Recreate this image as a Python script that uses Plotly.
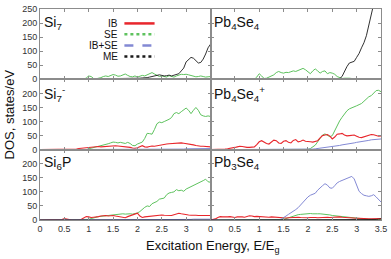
import plotly.graph_objects as go
from plotly.subplots import make_subplots

# Excitation energy grid E/Eg, 0 .. 3.5 step 0.05 (71 points)
energy = [round(i * 0.05, 2) for i in range(71)]

panel_names = ["Si<sub>7</sub>", "Pb<sub>4</sub>Se<sub>4</sub>",
               "Si<sub>7</sub><sup>-</sup>", "Pb<sub>4</sub>Se<sub>4</sub><sup>+</sup>",
               "Si<sub>6</sub>P", "Pb<sub>3</sub>Se<sub>4</sub>"]
series_names = ["IB", "SE", "IB+SE", "ME"]

Z10 = [0] * 10

# ---- Si7 ----
si7_ib = [0] * 71
si7_se = (Z10 + [0, 0, 0, 0, 0, 0, 0, 0, 0, 5]
          + [12, 10, 3, 2, 3, 6, 10, 12, 10, 14]
          + [17, 15, 11, 12, 16, 19, 14, 10, 9, 12]
          + [8, 10, 14, 12, 16, 20, 24, 19, 14, 10]
          + [12, 9, 8, 13, 10, 8, 12, 16, 18, 17]
          + [18, 16, 14, 10, 9, 10, 12, 10, 8, 9] + [10])
si7_ibse = [0] * 71
si7_me = (Z10 + Z10
          + [0, 0, 0, 0, 0, 0, 0, 0, 1, 1]
          + [2, 2, 2, 3, 3, 3, 3, 2, 3, 3]
          + [3, 4, 5, 5, 6, 8, 10, 12, 14, 16]
          + [14, 12, 13, 15, 12, 14, 16, 20, 30, 40]
          + [62, 72, 78, 75, 65, 58, 60, 72, 90, 112] + [125])

# ---- Pb4Se4 ----
pb4se4_ib = [0] * 71
pb4se4_se = (Z10 + [0, 0, 0, 0, 0, 0, 0, 0, 0, 8]
             + [20, 12, 3, 4, 8, 12, 16, 24, 28, 24]
             + [22, 25, 24, 27, 30, 28, 32, 36, 39, 34]
             + [28, 20, 30, 37, 30, 22, 28, 30, 20, 24]
             + [22, 18, 10, 6, 3, 4, 5, 4, 3, 2]
             + [1, 1, 1, 1, 1, 1, 1, 1, 1, 1] + [1])
pb4se4_ibse = [0] * 71
pb4se4_me = (Z10 + Z10
             + [0, 0, 0, 0, 0, 0, 1, 1, 1, 2]
             + [2, 2, 3, 2, 3, 3, 2, 3, 3, 2]
             + [3, 3, 2, 3, 3, 4, 3, 3, 2, 3]
             + [2, 2, 2, 2, 10, 30, 45, 58, 62, 64]
             + [78, 92, 112, 130, 155, 190, 225, 262, 300, 340] + [380])

# ---- Si7- ----
si7m_ib = (Z10 + [0, 0, 0, 0, 0, 2, 4, 5, 6, 7]
           + [8, 8, 9, 10, 11, 10, 11, 12, 13, 12]
           + [13, 14, 13, 12, 13, 11, 9, 8, 6, 5]
           + [7, 11, 14, 10, 9, 11, 13, 12, 14, 15]
           + [17, 18, 20, 21, 22, 23, 24, 24, 24, 23]
           + [22, 21, 19, 17, 15, 13, 12, 12, 11, 10] + [10])
si7m_se = (Z10 + Z10
           + [3, 5, 7, 9, 12, 14, 16, 19, 21, 24]
           + [27, 26, 24, 26, 23, 22, 26, 22, 15, 14]
           + [20, 24, 27, 40, 58, 57, 55, 72, 92, 98]
           + [96, 100, 103, 108, 114, 128, 132, 128, 135, 142]
           + [148, 140, 128, 140, 150, 140, 124, 120, 118, 120] + [118])
si7m_ibse = (Z10 + Z10 + Z10 + Z10 + Z10
             + [1, 1, 1, 1, 2, 2, 2, 2, 2, 2]
             + [3, 3, 3, 3, 3, 4, 4, 4, 4, 4] + [4])
si7m_me = [0] * 71

# ---- Pb4Se4+ ----
pb4se4p_ib = ([0, 0, 0, 0, 0, 1, 2, 3, 4, 6]
              + [8, 10, 12, 11, 9, 8, 8, 9, 10, 18]
              + [28, 32, 26, 22, 20, 28, 34, 32, 24, 22]
              + [30, 32, 26, 24, 33, 36, 28, 30, 34, 30]
              + [30, 28, 27, 29, 32, 42, 50, 52, 54, 48]
              + [38, 45, 55, 56, 58, 52, 49, 50, 52, 52]
              + [48, 44, 43, 46, 49, 50, 54, 53, 50, 48] + [49])
pb4se4p_se = (Z10 + Z10 + Z10 + Z10
              + [1, 4, 9, 16, 28, 42, 52, 56, 52, 46]
              + [50, 68, 88, 102, 115, 128, 138, 145, 148, 152]
              + [156, 160, 164, 172, 182, 188, 192, 200, 210, 211] + [206])
pb4se4p_ibse = (Z10 + Z10 + Z10 + Z10
                + [1, 1, 2, 3, 4, 5, 6, 7, 8, 9]
                + [11, 12, 14, 15, 17, 18, 20, 21, 23, 24]
                + [26, 27, 29, 30, 32, 33, 35, 36, 37, 38] + [38])
pb4se4p_me = [0] * 71

# ---- Si6P ----
si6p_ib = ([0, 0, 0, 0, 0, 0, 0, 0, 0, 2]
           + [5, 3, 0, 0, 0, 0, 0, 3, 9, 12]
           + [11, 9, 10, 10, 12, 14, 15, 16, 14, 15]
           + [16, 14, 13, 11, 9, 8, 12, 15, 18, 22]
           + [24, 14, 9, 11, 12, 14, 16, 15, 16, 17]
           + [18, 17, 16, 15, 16, 19, 22, 24, 22, 20]
           + [19, 18, 17, 18, 17, 16, 16, 17, 16, 16] + [16])
si6p_se = (Z10 + Z10
           + [2, 5, 8, 10, 12, 13, 14, 16, 17, 18]
           + [19, 20, 21, 21, 22, 21, 22, 22, 21, 22]
           + [25, 30, 38, 45, 50, 48, 58, 62, 66, 74]
           + [76, 78, 90, 96, 98, 100, 108, 104, 106, 102]
           + [110, 114, 120, 122, 126, 132, 136, 140, 145, 136] + [134])
si6p_ibse = (Z10 + Z10 + Z10 + Z10 + Z10
             + [0, 0, 1, 1, 1, 1, 1, 2, 2, 2]
             + [2, 2, 2, 3, 3, 3, 3, 3, 3, 3] + [3])
si6p_me = [0] * 71

# ---- Pb3Se4 ----
pb3se4_ib = ([0, 1, 4, 9, 12, 11, 10, 11, 12, 10]
             + [9, 11, 12, 11, 10, 12, 15, 14, 12, 13]
             + [12, 11, 12, 11, 10, 11, 10, 9, 10, 9]
             + [8, 7, 8, 9, 8, 9, 10, 9, 8, 9]
             + [8, 9, 10, 9, 8, 9, 10, 11, 10, 9]
             + [10, 11, 12, 11, 10, 9, 8, 8, 7, 7]
             + [6, 6, 5, 5, 5, 4, 4, 4, 4, 5] + [5])
pb3se4_se = (Z10 + Z10 + Z10
             + [2, 5, 8, 11, 14, 17, 19, 20, 21, 22]
             + [22, 23, 22, 23, 22, 22, 21, 22, 20, 18]
             + [16, 15, 13, 12, 11, 10, 9, 8, 7, 6]
             + [5, 4, 3, 3, 2, 2, 2, 1, 1, 1] + [1])
pb3se4_ibse = (Z10 + Z10
               + [0, 0, 0, 0, 0, 0, 0, 0, 0, 3]
               + [10, 14, 20, 25, 31, 37, 44, 54, 66, 76]
               + [82, 88, 91, 95, 106, 116, 122, 129, 124, 114]
               + [113, 122, 132, 137, 141, 144, 147, 152, 155, 146]
               + [126, 102, 94, 88, 86, 84, 86, 90, 82, 74] + [64])
pb3se4_me = (Z10 + Z10 + Z10 + Z10 + Z10 + Z10
             + [0, 0, 0, 0, 1, 1, 1, 2, 2, 3] + [4])

panels = [
    [si7_ib, si7_se, si7_ibse, si7_me],
    [pb4se4_ib, pb4se4_se, pb4se4_ibse, pb4se4_me],
    [si7m_ib, si7m_se, si7m_ibse, si7m_me],
    [pb4se4p_ib, pb4se4p_se, pb4se4p_ibse, pb4se4p_me],
    [si6p_ib, si6p_se, si6p_ibse, si6p_me],
    [pb3se4_ib, pb3se4_se, pb3se4_ibse, pb3se4_me],
]

x_ticks = [0, 0.5, 1, 1.5, 2, 2.5, 3, 3.5]
x_ticks_left = ["0", "0.5", "1", "1.5", "2", "2.5", "3", ""]
x_ticks_right = ["0", "0.5", "1", "1.5", "2", "2.5", "3", "3.5"]
y_ticks = [0, 50, 100, 150, 200, 250]
y_ticks_top = ["0", "50", "100", "150", "200", "250"]
y_ticks_low = ["0", "50", "100", "150", "200", ""]

colors = ["#e8262c", "#5ec25e", "#8389d4", "#1a1a1a"]
widths = [1.1, 1.0, 1.0, 0.9]

FONT = "Liberation Sans, Arial, Helvetica, sans-serif"

fig = make_subplots(rows=3, cols=2, shared_xaxes=True, shared_yaxes=True,
                    horizontal_spacing=0, vertical_spacing=0)

draw_order = [1, 0, 2, 3]
for p, series in enumerate(panels):
    r, c = p // 2 + 1, p % 2 + 1
    for k in draw_order:
        fig.add_trace(go.Scatter(x=energy, y=series[k], mode="lines",
                                 name=series_names[k], showlegend=False,
                                 line=dict(color=colors[k], width=widths[k])),
                      row=r, col=c)

axis_common = dict(showline=True, linecolor="#8c8c8c", linewidth=1, mirror="ticks",
                   ticks="inside", ticklen=3, tickcolor="#8c8c8c", showgrid=False,
                   zeroline=False, tickfont=dict(family=FONT, size=9, color="#333333"))

for p in range(6):
    r, c = p // 2 + 1, p % 2 + 1
    fig.update_xaxes(range=[0, 3.5], tickvals=x_ticks,
                     ticktext=x_ticks_left if c == 1 else x_ticks_right,
                     showticklabels=(r == 3), row=r, col=c, **axis_common)
    fig.update_yaxes(range=[0, 250], tickvals=y_ticks,
                     ticktext=y_ticks_top if r == 1 else y_ticks_low,
                     showticklabels=(c == 1), row=r, col=c, **axis_common)

annotations = []
for p in range(6):
    ax = "" if p == 0 else str(p + 1)
    annotations.append(dict(text=panel_names[p], xref=f"x{ax} domain", yref=f"y{ax} domain",
                            x=0.01, y=0.96, xanchor="left", yanchor="top", showarrow=False,
                            font=dict(family=FONT, size=14, color="#111111")))

# legend in the first panel (text right-aligned, line sample to its right)
leg_y = [0.795, 0.64, 0.48, 0.325]
leg_dash = ["solid", "dot", "dash", "dot"]
shapes = []
for k in range(4):
    annotations.append(dict(text=series_names[k], xref="x domain", yref="y domain",
                            x=0.468, y=leg_y[k], xanchor="right", yanchor="middle",
                            showarrow=False,
                            font=dict(family=FONT, size=10, color="#111111")))
    shapes.append(dict(type="line", xref="x domain", yref="y domain",
                       x0=0.495, x1=0.672, y0=leg_y[k], y1=leg_y[k],
                       line=dict(color=colors[k], width=2.5, dash=leg_dash[k])))

annotations.append(dict(text="Excitation Energy, E/E<sub>g</sub>", xref="paper", yref="paper",
                        x=0.505, y=-0.125, xanchor="center", yanchor="middle", showarrow=False,
                        font=dict(family=FONT, size=13, color="#111111")))
annotations.append(dict(text="DOS, states/eV", xref="paper", yref="paper",
                        x=-0.088, y=0.5, xanchor="center", yanchor="middle", showarrow=False,
                        textangle=-90, font=dict(family=FONT, size=13, color="#111111")))

fig.update_layout(width=391, height=259, margin=dict(l=40, r=8, t=4, b=39),
                  paper_bgcolor="white", plot_bgcolor="white",
                  annotations=annotations, shapes=shapes, showlegend=False)

fig.write_html("out.html", config={"displayModeBar": False},
               post_script="document.body.style.margin='0';document.body.style.padding='0';")
